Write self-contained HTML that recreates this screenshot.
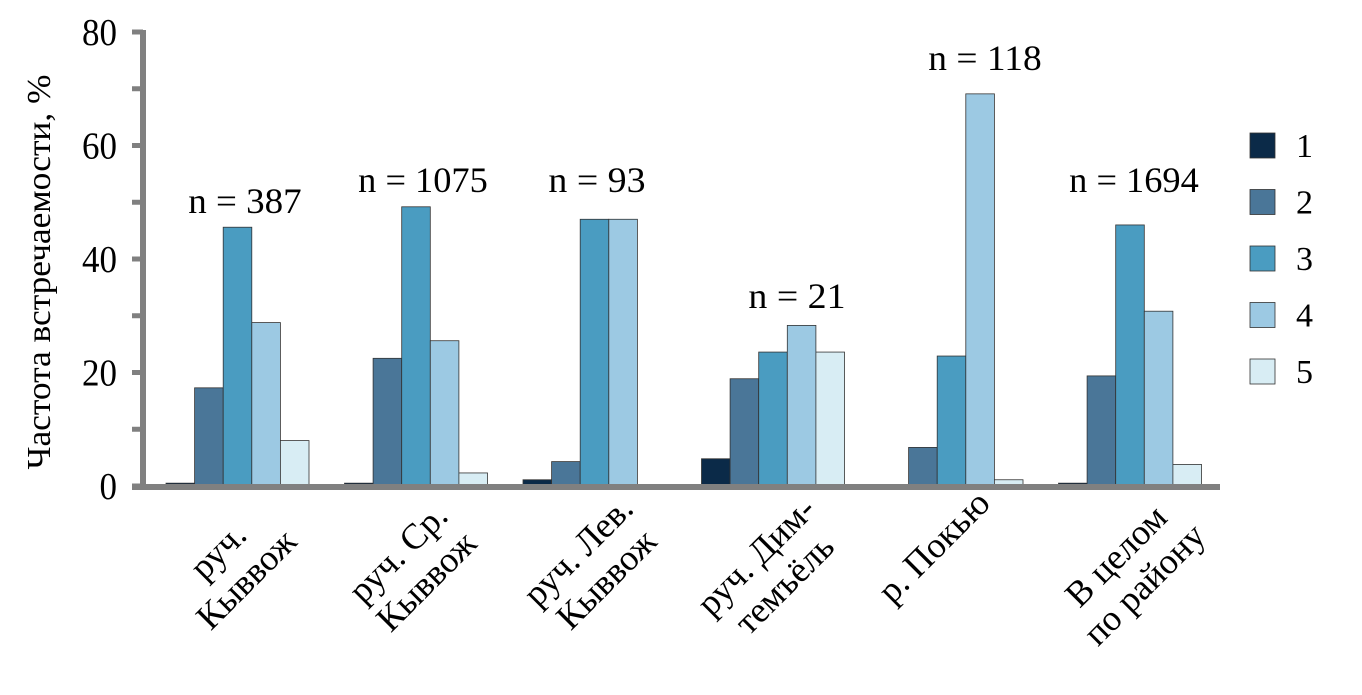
<!DOCTYPE html>
<html><head><meta charset="utf-8"><style>
body{margin:0;background:#fff}
svg text{font-family:"Liberation Serif",serif;fill:#000}
</style></head><body>
<svg id="c" width="1362" height="690" viewBox="0 0 1362 690">
<g id="bars"></g>
<g id="axes"></g>
<g id="labels"></g>
</svg>
<script>
const categories=[["руч.","Кыввож"],["руч. Ср.","Кыввож"],["руч. Лев.","Кыввож"],["руч. Дим-","темъёль"],["р. Покью",""],["В целом","по району"]];
const nLabels=["n = 387","n = 1075","n = 93","n = 21","n = 118","n = 1694"];
const s1=[0.5,0.5,1.1,4.8,0,0.5];
const s2=[17.3,22.5,4.3,18.9,6.8,19.4];
const s3=[45.6,49.2,47.0,23.6,22.9,46.0];
const s4=[28.8,25.6,47.0,28.3,69.1,30.8];
const s5=[8.0,2.3,0,23.6,1.1,3.8];
const seriesNames=["1","2","3","4","5"];
const yTicks=[0,20,40,60,80];
const series=[s1,s2,s3,s4,s5];
const colors=["#0b2a48","#4a7698","#4a9cc1","#9cc9e3","#d8edf4"];
const NS="http://www.w3.org/2000/svg";
function mk(t,a,p){const e=document.createElementNS(NS,t);for(const k in a)e.setAttribute(k,a[k]);p.appendChild(e);return e;}
const y=v=>486-v*5.675;
const gx=i=>166+i*178.5;
const bw=28.6;
const bars=document.getElementById('bars'),axes=document.getElementById('axes'),labels=document.getElementById('labels');
series.forEach((s,si)=>s.forEach((v,gi)=>{
  if(v<=0)return;
  const r=mk('rect',{x:gx(gi)+si*bw,y:y(v),width:bw,height:486-y(v),fill:colors[si],stroke:'#333','stroke-width':0.8},bars);
  
  
}));
mk('line',{x1:143,y1:30,x2:143,y2:490,stroke:'#808080','stroke-width':6},axes);
mk('line',{x1:132,y1:487,x2:1220,y2:487,stroke:'#808080','stroke-width':6},axes);
for(let v=0;v<=80;v+=10){mk('line',{x1:132,y1:y(v),x2:143,y2:y(v),stroke:'#808080','stroke-width':5},axes);}
yTicks.forEach(v=>{const t=mk('text',{x:117,y:y(v)+13,'text-anchor':'end','font-size':38,transform:'',textLength:String(v).length*17.5,lengthAdjust:'spacingAndGlyphs'},axes);t.textContent=v;
});
const yt=mk('text',{x:0,y:0,transform:'translate(50,272) rotate(-90)','text-anchor':'middle','font-size':34,textLength:395,lengthAdjust:'spacingAndGlyphs'},axes);
yt.textContent='Частота встречаемости, %';

const nY=[213,192,192,308,70,192];
const nX=[245,423,597,797,985,1134];
nLabels.forEach((n,i)=>{const t=mk('text',{x:nX[i],y:nY[i],'text-anchor':'middle','font-size':36,textLength:n.length*16.2,lengthAdjust:'spacingAndGlyphs'},labels);t.textContent=n;
});
const lc=[[232,565],[412,567],[592,565],[770,570],[935,548],[1130,570]];
categories.forEach((c,i)=>{
  const t=mk('text',{transform:`translate(${lc[i][0]},${lc[i][1]}) rotate(-45)`,'text-anchor':'middle','font-size':36},labels);
  
  const a=mk('tspan',{x:0,y:c[1]?-8:10},t);a.textContent=c[0];
  if(c[1]){const b=mk('tspan',{x:0,y:32},t);b.textContent=c[1];}
});
seriesNames.forEach((n,i)=>{
  const cy=145+i*56.5;
  const r=mk('rect',{x:1250,y:cy-12,width:25,height:25,fill:colors[i],stroke:'#333','stroke-width':0.8},labels);
  
  const t=mk('text',{x:1296,y:cy+12,'font-size':34},labels);t.textContent=n;
  
});
</script>
</body></html>
